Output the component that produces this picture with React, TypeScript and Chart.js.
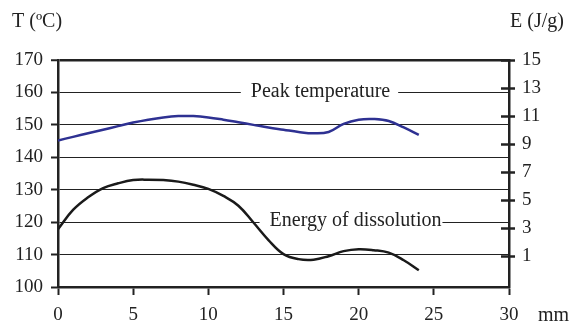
import React, { useEffect, useRef } from "react";
import { Chart, registerables } from "chart.js";

Chart.register(...registerables);

const positionMm = [0, 1, 2, 3, 4, 5, 6, 7, 8, 9, 10, 11, 12, 13, 14, 15, 16, 17, 18, 19, 20, 21, 22, 23, 24];
const peakTemperature = [145.2, 146.3, 147.4, 148.5, 149.6, 150.7, 151.6, 152.3, 152.7, 152.7, 152.3, 151.6, 150.8, 150.0, 149.2, 148.5, 147.8, 147.4, 147.8, 150.3, 151.6, 151.8, 151.2, 149.2, 146.9];
const energyOfDissolution = [2.93, 4.3, 5.2, 5.86, 6.2, 6.43, 6.46, 6.43, 6.32, 6.1, 5.8, 5.3, 4.6, 3.4, 2.15, 1.15, 0.79, 0.75, 1.0, 1.36, 1.5, 1.43, 1.25, 0.71, 0.0];
const xTicks = [0, 5, 10, 15, 20, 25, 30];
const tempTicks = [100, 110, 120, 130, 140, 150, 160, 170];
const energyTicks = [1, 3, 5, 7, 9, 11, 13, 15];

const INK = "#222222";
const FONT = '"Liberation Serif", "Times New Roman", serif';

export default function App() {
  const ref = useRef<HTMLCanvasElement>(null);

  useEffect(() => {
    const canvas = ref.current;
    if (!canvas) return;

    const decor = {
      id: "decor",
      afterDatasetsDraw(chart: any) {
        const { ctx, scales } = chart;
        const x = scales.x;
        const y = scales.y;
        const y2 = scales.y2;
        ctx.save();
        // right axis crossing ticks
        ctx.strokeStyle = INK;
        ctx.lineWidth = 2.5;
        const ax = y2.left;
        energyTicks.forEach((v) => {
          const py = Math.round(y2.getPixelForValue(v)) + 0.5;
          ctx.beginPath();
          ctx.moveTo(ax - 8, py);
          ctx.lineTo(ax + 6, py);
          ctx.stroke();
        });
        // inline series labels
        ctx.font = "20px " + FONT;
        ctx.textBaseline = "middle";
        ctx.textAlign = "center";
        const labels = [
          { text: "Peak temperature", xv: 17.46, yv: 160, padL: 10, padR: 8 },
          { text: "Energy of dissolution", xv: 19.79, yv: 120, padL: 10, padR: 1 },
        ];
        labels.forEach((l) => {
          const px = x.getPixelForValue(l.xv);
          const py = y.getPixelForValue(l.yv);
          const w = ctx.measureText(l.text).width;
          ctx.fillStyle = "#ffffff";
          ctx.fillRect(px - w / 2 - l.padL, py - 4, w + l.padL + l.padR, 8);
          ctx.fillStyle = INK;
          ctx.fillText(l.text, px, py - 1);
        });
        // axis titles
        ctx.textAlign = "left";
        ctx.fillText("T (ºC)", 12, 22);
        ctx.fillText("E (J/g)", 510, 22);
        ctx.fillText("mm", 538, 316);
        ctx.restore();
      },
    };

    const chart = new Chart(canvas, {
      type: "line",
      data: {
        datasets: [
          {
            label: "Peak temperature",
            data: positionMm.map((m, i) => ({ x: m, y: peakTemperature[i] })),
            yAxisID: "y",
            borderColor: "#2e3192",
            borderWidth: 2.5,
            pointRadius: 0,
            tension: 0.4,
            fill: false,
          },
          {
            label: "Energy of dissolution",
            data: positionMm.map((m, i) => ({ x: m, y: energyOfDissolution[i] })),
            yAxisID: "y2",
            borderColor: "#1a1a1a",
            borderWidth: 2.5,
            pointRadius: 0,
            tension: 0.4,
            fill: false,
          },
        ],
      },
      plugins: [decor],
      options: {
        responsive: false,
        animation: false,
        events: [],
        layout: { padding: { top: 60, left: 0, right: 0, bottom: 0 } },
        plugins: { legend: { display: false }, tooltip: { enabled: false } },
        scales: {
          x: {
            type: "linear",
            min: 0,
            max: 30,
            afterBuildTicks: (s: any) => {
              s.ticks = xTicks.map((v) => ({ value: v }));
            },
            afterFit: (s: any) => {
              s.height = 39;
            },
            ticks: { color: INK, font: { family: FONT, size: 19 }, padding: 9, maxRotation: 0 },
            grid: { drawOnChartArea: false, drawTicks: true, tickLength: 8, tickWidth: 2, tickColor: INK, color: INK },
            border: { display: true, color: INK, width: 2.5 },
          },
          y: {
            type: "linear",
            position: "left",
            min: 100,
            max: 170,
            afterBuildTicks: (s: any) => {
              s.ticks = tempTicks.map((v) => ({ value: v }));
            },
            afterFit: (s: any) => {
              s.width = 58;
            },
            ticks: { color: INK, font: { family: FONT, size: 19 }, padding: 8 },
            grid: {
              drawOnChartArea: true,
              drawTicks: true,
              tickLength: 7,
              tickWidth: 2,
              tickColor: INK,
              color: INK,
              lineWidth: (c: any) => (c.tick && c.tick.value === 170 ? 2.5 : 1),
            },
            border: { display: true, color: INK, width: 2.5 },
          },
          y2: {
            type: "linear",
            position: "right",
            min: -1.2,
            max: 15,
            afterBuildTicks: (s: any) => {
              s.ticks = energyTicks.map((v) => ({ value: v }));
            },
            afterFit: (s: any) => {
              s.width = 64;
            },
            ticks: { color: INK, font: { family: FONT, size: 19 }, padding: 13 },
            grid: { drawOnChartArea: false, drawTicks: false, color: INK },
            border: { display: true, color: INK, width: 2.5 },
          },
        },
      },
    } as any);

    return () => chart.destroy();
  }, []);

  return (
    <div style={{ position: "fixed", left: 0, top: 0, width: 573, height: 326, background: "#fff" }}>
      <canvas ref={ref} width={573} height={326} style={{ width: 573, height: 326, display: "block" }} />
    </div>
  );
}
